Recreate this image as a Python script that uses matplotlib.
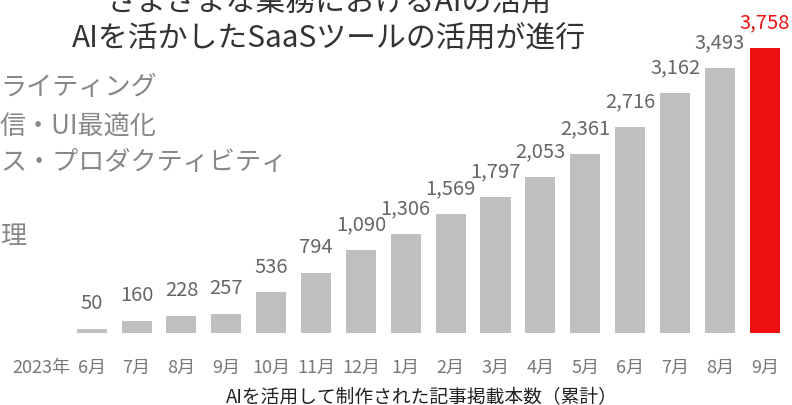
import numpy as np
import matplotlib
matplotlib.use("Agg")
import matplotlib.pyplot as plt

plt.rcParams['font.family'] = ['Noto Sans CJK JP', 'DejaVu Sans']

# data
months = ["6月", "7月", "8月", "9月", "10月", "11月", "12月", "1月",
          "2月", "3月", "4月", "5月", "6月", "7月", "8月", "9月"]
articles = [50, 160, 228, 257, 536, 794, 1090, 1306,
            1569, 1797, 2053, 2361, 2716, 3162, 3493, 3758]
title_lines = ["さまざまな業務におけるAIの活用", "AIを活かしたSaaSツールの活用が進行"]
side_labels = ["ライティング", "信・UI最適化", "ス・プロダクティビティ", "理"]
xlabel = "AIを活用して制作された記事掲載本数（累計）"

W, H = 792, 406
fig = plt.figure(figsize=(W / 100, H / 100), dpi=100)

# axes laid out in pixels: bar centres at 91.7 + i*44.87, baseline at y=334
x0, step = 91.7, 44.87
base = 334
px_per_unit = 285 / 3758
ax = fig.add_axes([0, (H - base) / H, 1, base / H])
ax.set_xlim(-x0 / step, (W - x0) / step)
ax.set_ylim(0, base / px_per_unit)

colors = ["#bfbfbf"] * (len(articles) - 1) + ["#ee1111"]
x = np.arange(len(articles))
bars = ax.bar(x, articles, width=0.67, color=colors)

for xi, v, c in zip(x, articles, colors):
    tc = "#ee1111" if c == "#ee1111" else "#666666"
    ax.annotate(f"{v:,}", (xi, v), xytext=(0, 15), textcoords="offset points",
                ha="center", va="baseline", fontsize=14.5, color=tc)

ax.set_xticks(x)
ax.set_xticklabels(months, fontsize=13, color="#777777")
ax.tick_params(axis="x", length=0, pad=18)
ax.set_yticks([])
for s in ax.spines.values():
    s.set_visible(False)
ax.patch.set_alpha(0)

fig.text(12 / W, 1 - 368 / H, "2023年", fontsize=13, color="#777777",
         ha="left", va="center")

# title (cut off at the top of the picture, as in the reference)
fig.text(329 / W, 1 - 3 / H, title_lines[0], fontsize=21.5, color="#333333",
         ha="center", va="center")
fig.text(329 / W, 1 - 38 / H, title_lines[1], fontsize=21.5, color="#333333",
         ha="center", va="center")

# category labels cut off on the left edge
for yy, t in zip([88, 127, 163, 237], side_labels):
    fig.text(0, 1 - yy / H, t, fontsize=18.8, color="#888888",
             ha="left", va="center")

fig.text(422 / W, 1 - 398 / H, xlabel, fontsize=13.5, color="#222222",
         ha="center", va="center")

fig.savefig("out.png", dpi=100)
